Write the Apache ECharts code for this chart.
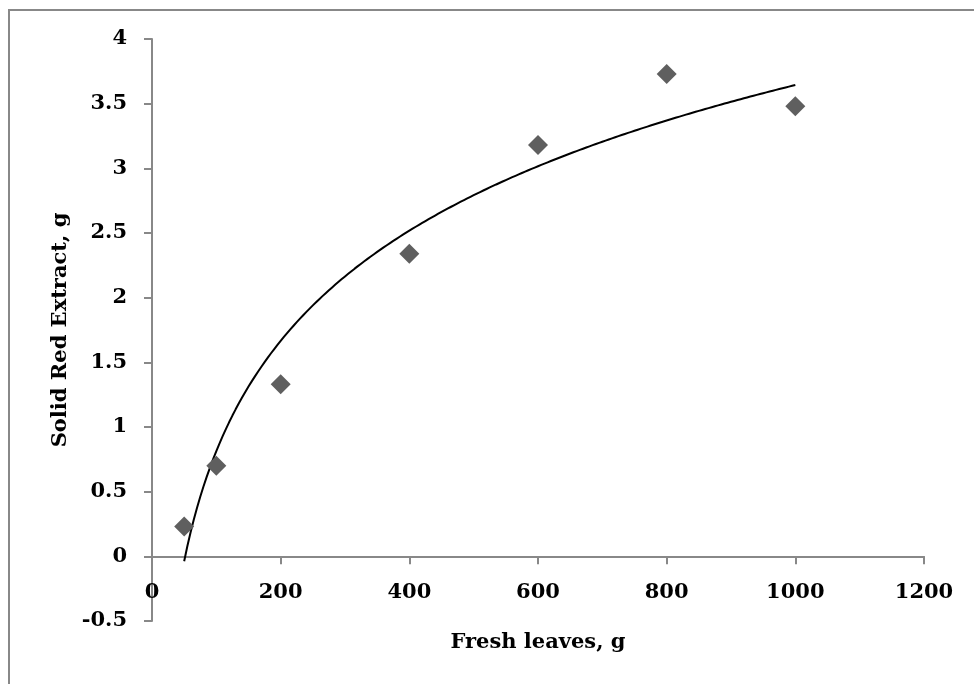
<!DOCTYPE html>
<html>
<head>
<meta charset="utf-8">
<title>Solid Red Extract vs Fresh leaves</title>
<script src="https://cdn.jsdelivr.net/npm/echarts@6/dist/echarts.min.js"></script>
<style>
  html, body { margin: 0; padding: 0; background: #fff; }
  #frame { position: absolute; left: 8px; top: 9px; width: 980px; height: 700px; border: 2px solid #888; box-sizing: border-box; }
  #chart { position: absolute; left: 0; top: 0; width: 974px; height: 684px; }
</style>
</head>
<body>
<div id="frame"></div>
<div id="chart"></div>
<script>
// data
var freshLeaves = [50, 100, 200, 400, 600, 800, 1000];
var redExtract = [0.23, 0.70, 1.33, 2.34, 3.18, 3.73, 3.48];
var xTicks = [0, 200, 400, 600, 800, 1000, 1200];
var yTicks = [-0.5, 0, 0.5, 1, 1.5, 2, 2.5, 3, 3.5, 4];

// log trendline (y = a ln x + b), least squares on the points above, like excel
var n = freshLeaves.length, sx = 0, sy = 0, sxx = 0, sxy = 0;
for (var i = 0; i < n; i++) {
  var lx = Math.log(freshLeaves[i]);
  sx += lx; sy += redExtract[i]; sxx += lx * lx; sxy += lx * redExtract[i];
}
var a = (n * sxy - sx * sy) / (n * sxx - sx * sx);
var b = (sy - a * sx) / n;
var trend = [];
for (var x = freshLeaves[0]; x <= freshLeaves[n - 1]; x += 5) {
  trend.push([x, a * Math.log(x) + b]);
}

var font = '"DejaVu Serif", "Liberation Serif", serif';
var axisCol = '#888';

// grid box, x axis has to sit on y = 0 with its labels
var gTop = 39, gBottom = 63, gH = 684 - gTop - gBottom;
var yMin = yTicks[0], yMax = yTicks[yTicks.length - 1];
var xOffset = -gH * (0 - yMin) / (yMax - yMin);

var myChart = echarts.init(document.getElementById('chart'));
var option = {
  animation: false,
  grid: { left: 152, top: gTop, right: 50, bottom: gBottom, containLabel: false, outerBoundsMode: 'none' },
  xAxis: {
    type: 'value',
    min: xTicks[0], max: xTicks[xTicks.length - 1], interval: 200,
    offset: xOffset,
    name: 'Fresh leaves, g',
    nameLocation: 'middle',
    nameGap: 76,
    nameTextStyle: { fontFamily: font, fontWeight: 'bold', fontSize: 21, color: '#000' },
    axisLine: { onZero: false, lineStyle: { color: axisCol, width: 2 } },
    axisTick: { length: 8, lineStyle: { color: axisCol, width: 2 } },
    axisLabel: { margin: 26, fontFamily: font, fontWeight: 'bold', fontSize: 21, color: '#000',
      formatter: function (v) { return String(v); } },
    splitLine: { show: false }
  },
  yAxis: {
    type: 'value',
    min: yMin, max: yMax, interval: 0.5,
    name: 'Solid Red Extract, g',
    nameLocation: 'middle',
    nameGap: 77,
    nameTextStyle: { fontFamily: font, fontWeight: 'bold', fontSize: 21, color: '#000' },
    axisLine: { show: true, onZero: false, lineStyle: { color: axisCol, width: 2 } },
    axisTick: { show: true, length: 8, lineStyle: { color: axisCol, width: 2 } },
    axisLabel: { margin: 25, fontFamily: font, fontWeight: 'bold', fontSize: 21, color: '#000' },
    splitLine: { show: false }
  },
  series: [
    {
      type: 'line',
      data: trend,
      showSymbol: false,
      lineStyle: { color: '#000', width: 2 },
      z: 2
    },
    {
      type: 'scatter',
      data: freshLeaves.map(function (v, i) { return [v, redExtract[i]]; }),
      symbol: 'diamond',
      symbolSize: 20,
      itemStyle: { color: '#5f5f5f', opacity: 1 },
      z: 3
    }
  ]
};
option && myChart.setOption(option);
</script>
</body>
</html>
